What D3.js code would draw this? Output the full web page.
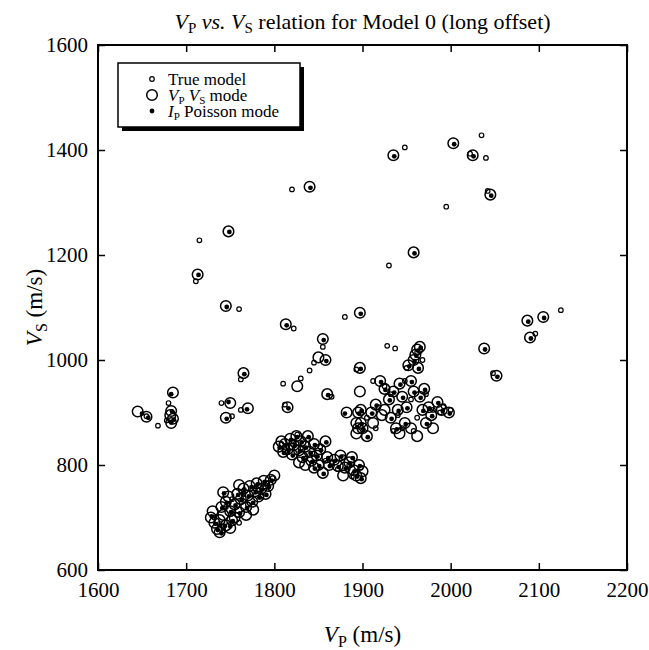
<!DOCTYPE html>
<html>
<head>
<meta charset="utf-8">
<script src="https://cdn.jsdelivr.net/npm/d3@7"></script>
<style>
  html, body { margin: 0; padding: 0; background: #fff; }
  svg { display: block; }
  text { font-family: "Liberation Serif", "Times New Roman", serif; fill: #000; }
</style>
</head>
<body>
<svg id="chart" width="649" height="650"></svg>
<script>
// Axis ticks
const xTicks = [1600, 1700, 1800, 1900, 2000, 2100, 2200];
const yTicks = [600, 800, 1000, 1200, 1400, 1600];

// True model points [Vp, Vs]
const trueModel = [
  [1711,1150],[1715,1228],[1760,1097],[1762,963],[1822,1060],[1820,1325],[1880,1082],
  [1930,1180],[1948,1405],[1995,1292],[2022,1393],[2035,1428],[2040,1385],[2042,1322],
  [2048,975],[2096,1050],[2125,1095],[2000,905],
  [1655,893],[1668,875],[1680,918],[1678,885],[1740,918],[1752,893],[1762,905],[1760,690],
  [1810,955],[1812,915],[1830,965],[1855,1025],[1845,995],[1840,980],[1865,930],[1893,982],
  [1928,1027],[1937,1022],[1912,960],
  [1732,700],[1738,688],[1745,720],[1752,735],[1758,705],[1765,745],[1770,725],[1778,755],
  [1785,740],[1792,765],[1798,775],[1742,675],
  [1808,840],[1815,825],[1822,845],[1830,832],[1838,848],[1845,822],[1852,835],[1858,808],
  [1835,812],[1826,858],
  [1865,805],[1872,792],[1878,815],[1885,800],[1892,785],[1898,795],[1888,778],
  [1905,890],[1918,910],[1925,950],[1932,935],[1940,895],[1948,960],[1955,925],[1962,890],
  [1968,1000],[1972,935],[1980,905],[1988,900],[1945,870],[1958,865],[1915,870],[1935,865],
  [1992,912],[1950,985],[1962,1015]
];

// Vp-Vs mode inversion [Vp, Vs]
const vpVsMode = [
  [1713,1163],[1748,1245],[1745,1103],[1765,975],[1813,1068],[1840,1330],[1897,1090],
  [1958,1205],[1935,1390],[2003,1413],[2025,1390],[2045,1315],[2038,1022],[2052,970],
  [2087,1075],[2090,1043],[2105,1082],[1998,900],
  [1645,902],[1655,892],[1685,938],[1683,903],[1682,895],[1683,880],[1685,888],[1750,918],
  [1745,890],[1770,908],[1815,910],[1826,950],[1855,1040],[1850,1005],[1858,1000],[1860,935],
  [1882,900],[1897,985],[1897,940],[1898,905],[1893,880],[1895,870],
  [1728,700],[1730,712],[1732,690],[1735,678],[1738,695],[1740,720],[1742,705],[1745,685],
  [1745,730],[1748,740],[1750,712],[1752,695],[1755,725],[1758,745],[1760,710],[1762,735],
  [1765,755],[1768,720],[1770,742],[1772,760],[1775,730],[1778,750],[1780,765],[1782,740],
  [1785,755],[1788,770],[1790,745],[1793,760],[1796,772],[1800,780],[1742,748],[1755,700],
  [1768,705],[1738,672],[1750,680],[1760,762],[1776,715],
  [1805,835],[1808,845],[1810,825],[1812,840],[1815,830],[1818,850],[1820,820],[1822,838],
  [1825,855],[1828,828],[1830,845],[1832,815],[1835,835],[1838,855],[1840,825],[1842,808],
  [1845,840],[1848,818],[1850,800],[1852,830],[1855,785],[1858,845],[1860,815],[1835,800],
  [1845,795],[1828,805],
  [1862,800],[1868,810],[1872,798],[1875,818],[1880,795],[1885,805],[1888,815],[1890,790],
  [1893,780],[1896,800],[1898,775],[1900,788],[1878,780],
  [1895,900],[1898,880],[1893,860],[1900,870],[1905,855],[1910,900],[1915,915],[1920,960],
  [1925,945],[1925,905],[1930,925],[1932,890],[1935,940],[1938,870],[1940,905],[1942,955],
  [1945,930],[1948,880],[1950,910],[1952,990],[1955,960],[1958,940],[1960,1010],[1962,1020],
  [1963,985],[1965,930],[1968,905],[1970,945],[1972,880],[1975,910],[1978,895],[1985,920],
  [1990,905],[1980,870],[1942,860],[1955,870],[1962,855],[1922,895],[1912,880],[1958,1000],
  [1965,1025]
];

// Ip-Poisson mode inversion [Vp, Vs]
const ipPoissonMode = [
  [1714,1162],[1749,1244],[1746,1101],[1766,973],[1814,1066],[1841,1328],[1898,1088],
  [1959,1203],[1936,1388],[2004,1411],[2026,1388],[2046,1313],[2039,1020],[2053,968],
  [2088,1073],[2091,1041],[2106,1080],[1999,898],
  [1650,898],[1657,890],[1683,935],[1684,902],[1683,881],[1686,886],[1748,920],
  [1746,888],[1769,906],[1816,908],[1856,1038],[1859,998],[1861,933],
  [1880,898],[1898,983],[1899,903],[1894,872],[1750,683],
  [1729,702],[1733,688],[1736,676],[1741,718],[1744,684],[1746,728],[1751,710],[1753,693],
  [1756,723],[1759,743],[1761,708],[1763,733],[1766,753],[1769,718],[1771,740],[1774,758],
  [1776,728],[1779,748],[1781,763],[1783,738],[1786,753],[1789,768],[1791,743],[1794,758],
  [1797,770],[1743,746],[1740,670],
  [1806,833],[1811,823],[1813,838],[1816,828],[1819,848],[1821,818],[1823,836],[1826,853],
  [1829,826],[1831,843],[1833,813],[1836,833],[1839,853],[1841,823],[1843,806],[1846,838],
  [1849,816],[1851,798],[1853,828],[1856,783],[1859,843],[1861,813],[1846,793],
  [1863,798],[1869,808],[1873,796],[1876,816],[1881,793],[1886,803],[1889,813],[1891,788],
  [1894,778],[1897,798],[1899,773],
  [1896,898],[1899,878],[1901,868],[1906,853],[1911,898],[1916,913],[1921,958],[1926,943],
  [1931,923],[1933,888],[1936,938],[1939,868],[1941,903],[1943,953],[1946,928],[1949,878],
  [1951,908],[1953,988],[1956,958],[1959,938],[1961,1008],[1963,1018],[1964,983],[1966,928],
  [1969,903],[1971,943],[1973,878],[1976,908],[1979,893],[1986,918],[1991,903],[1959,998],
  [1966,1023]
];

const svg = d3.select("#chart");
const frame = { left: 98, right: 627, top: 45, bottom: 570 };

const x = d3.scaleLinear().domain([1600, 2200]).range([frame.left, frame.right]);
const y = d3.scaleLinear().domain([600, 1600]).range([frame.bottom, frame.top]);

// Title with subscripts
const title = svg.append("text")
  .attr("x", (frame.left + frame.right) / 2)
  .attr("y", 29)
  .attr("text-anchor", "middle")
  .style("font-size", "22px");
title.append("tspan").style("font-style", "italic").text("V");
title.append("tspan").attr("dy", 4).style("font-size", "15px").text("P");
title.append("tspan").attr("dy", -4).style("font-style", "italic").text(" vs. V");
title.append("tspan").attr("dy", 4).style("font-size", "15px").text("S");
title.append("tspan").attr("dy", -4).text(" relation for Model 0 (long offset)");

// Axes with inward ticks on all four sides
const tickLen = 7;
const gx = svg.append("g").attr("transform", `translate(0,${frame.bottom})`)
  .call(d3.axisBottom(x).tickValues(xTicks).tickSize(-tickLen).tickPadding(12).tickFormat(d3.format("d")));
const gxTop = svg.append("g").attr("transform", `translate(0,${frame.top})`)
  .call(d3.axisTop(x).tickValues(xTicks).tickSize(-tickLen).tickFormat(""));
const gy = svg.append("g").attr("transform", `translate(${frame.left},0)`)
  .call(d3.axisLeft(y).tickValues(yTicks).tickSize(-tickLen).tickPadding(10).tickFormat(d3.format("d")));
const gyRight = svg.append("g").attr("transform", `translate(${frame.right},0)`)
  .call(d3.axisRight(y).tickValues(yTicks).tickSize(-tickLen).tickFormat(""));

[gx, gxTop, gy, gyRight].forEach(g => {
  g.select(".domain").remove();
  g.selectAll(".tick line").attr("stroke", "#000").attr("stroke-width", 1.5);
  g.selectAll(".tick text").style("font-size", "21px").style("font-family", '"Liberation Serif", serif');
});

// Frame
svg.append("rect")
  .attr("x", frame.left).attr("y", frame.top)
  .attr("width", frame.right - frame.left).attr("height", frame.bottom - frame.top)
  .attr("fill", "none").attr("stroke", "#000").attr("stroke-width", 2);

// Axis titles
const xl = svg.append("text")
  .attr("x", (frame.left + frame.right) / 2).attr("y", 642)
  .attr("text-anchor", "middle").style("font-size", "23px");
xl.append("tspan").style("font-style", "italic").text("V");
xl.append("tspan").attr("dy", 5).style("font-size", "16px").text("P");
xl.append("tspan").attr("dy", -5).text(" (m/s)");

const yl = svg.append("text")
  .attr("transform", `translate(42,${(frame.top + frame.bottom) / 2}) rotate(-90)`)
  .attr("text-anchor", "middle").style("font-size", "23px");
yl.append("tspan").style("font-style", "italic").text("V");
yl.append("tspan").attr("dy", 5).style("font-size", "16px").text("S");
yl.append("tspan").attr("dy", -5).text(" (m/s)");

// Points
const plot = svg.append("g");
plot.selectAll("circle.true").data(trueModel).join("circle")
  .attr("class", "true")
  .attr("cx", d => x(d[0])).attr("cy", d => y(d[1])).attr("r", 2.3)
  .attr("fill", "none").attr("stroke", "#000").attr("stroke-width", 1.2);
plot.selectAll("circle.vpvs").data(vpVsMode).join("circle")
  .attr("class", "vpvs")
  .attr("cx", d => x(d[0])).attr("cy", d => y(d[1])).attr("r", 5.3)
  .attr("fill", "none").attr("stroke", "#000").attr("stroke-width", 1.5);
plot.selectAll("circle.ip").data(ipPoissonMode).join("circle")
  .attr("class", "ip")
  .attr("cx", d => x(d[0])).attr("cy", d => y(d[1])).attr("r", 2.4)
  .attr("fill", "#000");

// Legend with drop shadow
const lg = svg.append("g").attr("transform", "translate(118,63)");
const lw = 182, lh = 64;
lg.append("rect").attr("x", 4).attr("y", 4).attr("width", lw).attr("height", lh).attr("fill", "#000");
lg.append("rect").attr("width", lw).attr("height", lh).attr("fill", "#fff").attr("stroke", "#000").attr("stroke-width", 1.5);

const rows = [
  { kind: "true", y: 16 },
  { kind: "vpvs", y: 32 },
  { kind: "ip", y: 48 }
];
rows.forEach(r => {
  const c = lg.append("circle").attr("cx", 34).attr("cy", r.y);
  if (r.kind === "true") c.attr("r", 2.3).attr("fill", "none").attr("stroke", "#000").attr("stroke-width", 1.2);
  if (r.kind === "vpvs") c.attr("r", 5.3).attr("fill", "none").attr("stroke", "#000").attr("stroke-width", 1.5);
  if (r.kind === "ip") c.attr("r", 2.4).attr("fill", "#000");
});
lg.append("text").attr("x", 50).attr("y", 22).style("font-size", "17px").text("True model");
const t2 = lg.append("text").attr("x", 50).attr("y", 38).style("font-size", "17px");
t2.append("tspan").style("font-style", "italic").text("V");
t2.append("tspan").attr("dy", 3).style("font-size", "11px").text("P");
t2.append("tspan").attr("dy", -3).style("font-style", "italic").text(" V");
t2.append("tspan").attr("dy", 3).style("font-size", "11px").text("S");
t2.append("tspan").attr("dy", -3).text(" mode");
const t3 = lg.append("text").attr("x", 50).attr("y", 54).style("font-size", "17px");
t3.append("tspan").style("font-style", "italic").text("I");
t3.append("tspan").attr("dy", 3).style("font-size", "11px").text("P");
t3.append("tspan").attr("dy", -3).text(" Poisson mode");
</script>
</body>
</html>
